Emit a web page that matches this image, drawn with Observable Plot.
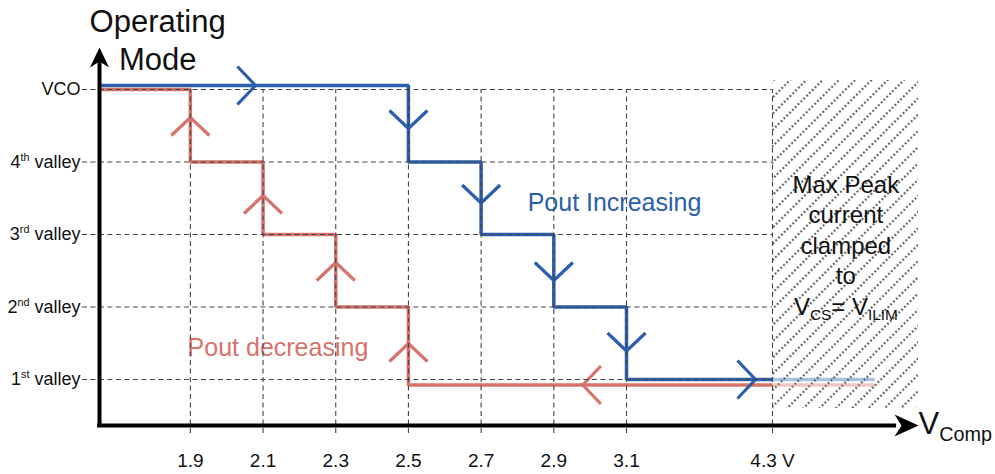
<!DOCTYPE html>
<html><head><meta charset="utf-8">
<script src="https://cdn.jsdelivr.net/npm/d3@7"></script>
<script src="https://cdn.jsdelivr.net/npm/@observablehq/plot@0.6"></script>
<style>body{margin:0;background:#fff;} svg{font-family:"Liberation Sans",Arial,sans-serif;}</style>
</head><body><div id="chart"></div>
<script>
// ---- data ----
const xTicks = [1.9, 2.1, 2.3, 2.5, 2.7, 2.9, 3.1, 4.3];
const xTickLabels = ["1.9", "2.1", "2.3", "2.5", "2.7", "2.9", "3.1", "4.3 V"];
const yLevels = [5, 4, 3, 2, 1];
const yLabels = ["VCO", "4^{th} valley", "3^{rd} valley", "2^{nd} valley", "1^{st} valley"];
const blueStepX = [1.65, 2.5, 2.7, 2.9, 3.1, 4.3];
const blueStepY = [5.055, 4, 3, 2, 1, 1];
const redStepX = [1.65, 1.9, 2.1, 2.3, 2.5, 4.3];
const redStepY = [5, 4, 3, 2, 0.924, 0.924];
const clampX = [4.3, 4.58];
const blueArrowX = [2.079, 2.5, 2.7, 2.9, 3.1, 4.16];
const blueArrowY = [5.055, 4.462, 3.434, 2.366, 1.393, 1];
const blueArrowDir = ["right", "down", "down", "down", "down", "right"];
const redArrowX = [1.9, 2.1, 2.3, 2.5, 2.98];
const redArrowY = [4.614, 3.538, 2.614, 1.497, 0.924];
const redArrowDir = ["up", "up", "up", "up", "left"];
const clampLabel = "Max Peak\ncurrent\nclamped\nto\nV_{CS}= V_{ILIM}";

const BLUE = "#2b5eab", RED = "#d6736b";
const xAxisLevel = 0.3655;

const blue = blueStepX.map((x, i) => ({x, y: blueStepY[i]}));
const red = redStepX.map((x, i) => ({x, y: redStepY[i]}));
const blueArrows = blueArrowX.map((x, i) => ({x, y: blueArrowY[i], dir: blueArrowDir[i]}));
const redArrows = redArrowX.map((x, i) => ({x, y: redArrowY[i], dir: redArrowDir[i]}));

function chevron(dir) {
  const a = 19, b = 18;
  const pts = {
    down: [[-a, -b], [0, 0], [a, -b]],
    up: [[-a, b], [0, 0], [a, b]],
    right: [[-b, -a], [0, 0], [-b, a]],
    left: [[b, -a], [0, 0], [b, a]]
  }[dir];
  return {draw(ctx) { ctx.moveTo(...pts[0]); ctx.lineTo(...pts[1]); ctx.lineTo(...pts[2]); }};
}
const headRight = {draw(ctx) { ctx.moveTo(0, 0); ctx.lineTo(-24, -11); ctx.lineTo(-17, 0); ctx.lineTo(-24, 11); ctx.closePath(); }};
const headUp = {draw(ctx) { ctx.moveTo(0, 0); ctx.lineTo(-9.5, 20); ctx.lineTo(0, 14); ctx.lineTo(9.5, 20); ctx.closePath(); }};

function arrowMarks(arr, color) {
  return ["up", "down", "left", "right"].map(dir =>
    Plot.dot(arr.filter(d => d.dir === dir), {x: "x", y: "y", symbol: chevron(dir), r: 5, fill: "none", stroke: color, strokeWidth: 3.2, strokeLinecap: "butt", strokeLinejoin: "miter"}));
}

const svg = Plot.plot({
  width: 995, height: 474, margin: 0,
  x: {type: "linear", domain: [1.65, 3.1, 4.3, 4.7], range: [99, 626, 772, 918], axis: null},
  y: {type: "linear", domain: [xAxisLevel, 5], range: [425, 89], axis: null},
  style: {fontFamily: '"Liberation Sans", Arial, sans-serif', background: "#fff", color: "#111"},
  marks: [
    Plot.rect([0], {x1: 4.3, x2: 4.7, y1: 0.6, y2: 5.124, fill: "url(#hatch)"}),
    Plot.line(blue, {x: "x", y: "y", curve: "step-after", stroke: BLUE, strokeWidth: 3.5, strokeLinejoin: "miter", strokeLinecap: "butt"}),
    Plot.line(red, {x: "x", y: "y", curve: "step-after", stroke: RED, strokeWidth: 3.5, strokeLinejoin: "miter", strokeLinecap: "butt"}),
    Plot.line(clampX, {x: d => d, y: 1, stroke: BLUE, strokeOpacity: 0.4, strokeWidth: 3.5, strokeLinecap: "butt"}),
    Plot.line(clampX, {x: d => d, y: 0.924, stroke: RED, strokeOpacity: 0.4, strokeWidth: 3.5, strokeLinecap: "butt"}),
    ...arrowMarks(blueArrows, BLUE),
    ...arrowMarks(redArrows, RED),
    Plot.text(["Pout Increasing"], {x: 3.067, y: 3.434, text: d => d, fill: BLUE, fontSize: 25}),
    Plot.text(["Pout decreasing"], {x: 2.141, y: 1.434, text: d => d, fill: RED, fontSize: 25}),
    Plot.ruleY(yLevels, {x1: 1.603, x2: 4.3, stroke: "#444", strokeWidth: 1.1, strokeDasharray: "5,3.5"}),
    Plot.ruleX(xTicks, {y1: 0.255, y2: 5, stroke: "#444", strokeWidth: 1.1, strokeDasharray: "5,3.5"}),
    Plot.text([clampLabel], {x: 4.501, y: 2.869, text: d => d, fontSize: 24, lineHeight: 1.27, fill: "#111"}),
    // axes
    Plot.ruleY([xAxisLevel], {x1: 1.645, x2: 4.64, stroke: "#000", strokeWidth: 4}),
    Plot.ruleX([1.65], {y1: 0.34, y2: 5.4, stroke: "#000", strokeWidth: 4}),
    Plot.dot([0], {x: 4.7, y: xAxisLevel, symbol: headRight, r: 5, fill: "#000", stroke: "none"}),
    Plot.dot([0], {x: 1.65, y: 5.579, symbol: headUp, r: 5, fill: "#000", stroke: "none"}),
    Plot.text(xTicks, {x: d => d, y: -0.117, text: (d, i) => xTickLabels[i], fontSize: 19, fill: "#111"}),
    Plot.text(yLabels, {x: 1.65, y: (d, i) => yLevels[i], text: d => d, textAnchor: "end", dx: -19, fontSize: 18, fill: "#111"}),
    Plot.text(["Operating"], {x: 1.81, y: 5.924, text: d => d, fontSize: 31, fill: "#111"}),
    Plot.text(["Mode"], {x: 1.81, y: 5.41, text: d => d, fontSize: 31, fill: "#111"}),
    Plot.text(["V_{Comp}"], {x: 4.7, y: 0.38, text: d => d, textAnchor: "start", fontSize: 31, fill: "#111"})
  ]
});
document.getElementById("chart").appendChild(svg);

// hatch pattern
const defs = d3.select(svg).insert("defs", ":first-child");
const pat = defs.append("pattern").attr("id", "hatch").attr("patternUnits", "userSpaceOnUse")
  .attr("width", 11.5).attr("height", 12).attr("patternTransform", "rotate(45)");
pat.append("line").attr("x1", 5.75).attr("y1", 0).attr("x2", 5.75).attr("y2", 12)
  .attr("stroke", "#666").attr("stroke-width", 2.2).attr("stroke-dasharray", "2 2");

// sub/superscript markup
(function applyMarkup(root) {
  const ns = "http://www.w3.org/2000/svg";
  const leaves = [...root.querySelectorAll("text, tspan")].filter(e => e.children.length === 0 && /[_^]\{/.test(e.textContent));
  for (const el of leaves) {
    const fs = parseFloat(getComputedStyle(el).fontSize);
    const parts = el.textContent.split(/([_^]\{[^}]*\})/).filter(p => p);
    el.textContent = "";
    let cur = 0;
    for (const p of parts) {
      const m = p.match(/^([_^])\{([^}]*)\}$/);
      const t = document.createElementNS(ns, "tspan");
      let target = 0, txt = p;
      if (m) {
        txt = m[2];
        target = m[1] === "_" ? fs * 0.22 : -fs * 0.38;
        t.setAttribute("font-size", fs * (m[1] === "_" ? 0.64 : 0.6));
      }
      if (target !== cur) t.setAttribute("dy", target - cur);
      cur = target;
      t.textContent = txt;
      el.appendChild(t);
    }
  }
})(svg);
</script>
</body></html>
